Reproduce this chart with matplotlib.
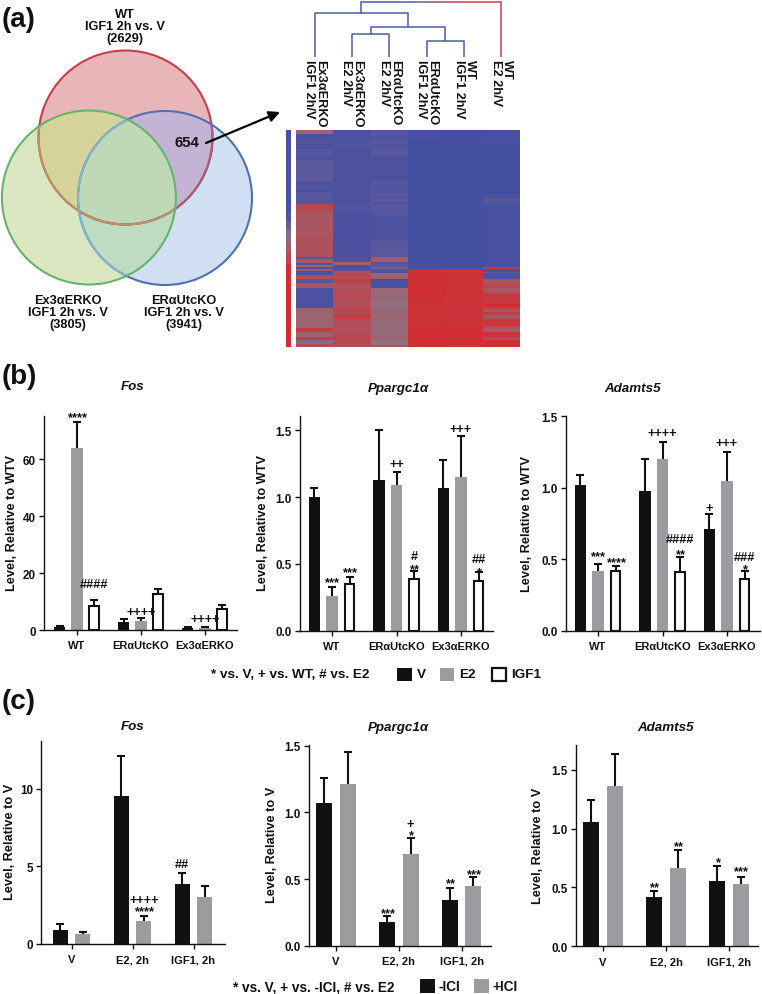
#!/usr/bin/env python3
"""Venn, clustered heatmap and qPCR bar panels (a, b, c)."""

import matplotlib
matplotlib.use("Agg")
import matplotlib.pyplot as plt
from matplotlib.colors import LinearSegmentedColormap
from matplotlib.patches import Circle, Polygon, Rectangle
import numpy as np

plt.rcParams["font.family"] = ["Liberation Sans", "DejaVu Sans"]
plt.rcParams["font.weight"] = "bold"
plt.rcParams["axes.labelweight"] = "bold"

W, H = 762, 995
BLACK = "#111113"
GRAY = "#9c9ca0"

# panel (a): venn
venn_names = ["WT\nIGF1 2h vs. V\n(2629)", "Ex3αERKO\nIGF1 2h vs. V\n(3805)", "ERαUtcKO\nIGF1 2h vs. V\n(3941)"]
venn_overlap = "654"

# panel (a): heatmap, each column is (rows, score) runs from top to bottom
heat_labels = ["Ex3αERKO\nIGF1 2h/V", "Ex3αERKO\nE2 2h/V", "ERαUtcKO\nE2 2h/V",
               "ERαUtcKO\nIGF1 2h/V", "WT\nIGF1 2h/V", "WT\nE2 2h/V"]
col_ex3_igf = [(4, .2), (4, -.8), (6, -.65), (5, -.75), (8, -.6), (3, -.75), (22, -.5), (3, -.8), (4, -.65),
               (3, -.8), (5, -.6), (7, -.6), (7, .55), (24, .35), (22, .4), (2, -.6), (4, .3), (2, -.7), (2, .2),
               (2, -.7), (2, .3), (4, -.8), (4, .5), (4, -.6), (5, .4), (20, -.75), (20, .15), (4, .7), (5, .2),
               (3, .7), (4, -.1), (3, .5)]
col_ex3_e2 = [(5, -.78), (7, -.72), (7, -.68), (55, -.75), (9, -.68), (49, -.78), (3, .2), (4, -.72), (2, -.6),
              (8, .5), (4, .65), (6, .4), (10, .5), (9, .45), (7, .55), (4, .7), (15, .45), (10, .55), (3, .4)]
col_era_e2 = [(6, -.55), (4, -.7), (5, -.6), (4, -.7), (8, -.55), (24, -.75), (7, -.55), (3, -.7), (5, -.55),
              (2, -.7), (4, -.5), (3, -.7), (6, -.55), (5, -.62), (24, -.75), (3, -.55), (14, -.5), (5, .3),
              (2, -.6), (3, -.5), (2, -.3), (4, -.65), (6, .2), (9, -.85), (12, .1), (8, .0), (12, .12), (15, .08),
              (4, .2), (6, .0), (2, .45)]
col_era_igf = [(10, -.85), (129, -.88), (30, .88), (30, .84), (18, .9)]
col_wt_igf = [(15, -.86), (124, -.88), (25, .85), (30, .82), (23, .88)]
col_wt_e2 = [(14, -.85), (50, -.88), (5, -.75), (3, -.55), (4, -.72), (61, -.85), (2, .7), (3, -.8), (2, -.55),
             (5, -.8), (6, .4), (3, .6), (5, .35), (11, .75), (3, .95), (3, .6), (2, .3), (3, .7), (4, .35),
             (8, .8), (5, .25), (5, .85), (3, .45), (7, .9)]
strip_runs = [(82, -.85), (9, -.7), (8, -.4), (15, -.1), (10, .3), (10, .6), (83, .9)]

# dendrogram merges: left node, right node, height. Nodes 0-5 are the columns, 6+ the merges
merges = [(3, 4, 47), (1, 2, 66), (7, 6, 88), (0, 8, 130), (9, 5, 164)]

# panel (b)
groups_b = ["WT", "ERαUtcKO", "Ex3αERKO"]
fos_b = [.9, 64, 8.5, 2.8, 3.2, 12.7, .6, .6, 7.5]
fos_b_top = [1.3, 73.3, 10.5, 3.7, 4.3, 14.4, .9, 1, 8.8]
ppar_b = [1.0, .26, .35, 1.13, 1.09, .39, 1.07, 1.15, .37]
ppar_b_top = [1.07, .33, .40, 1.5, 1.19, .45, 1.28, 1.46, .44]
adam_b = [1.02, .42, .42, .98, 1.2, .41, .71, 1.05, .36]
adam_b_top = [1.09, .47, .455, 1.2, 1.32, .515, .815, 1.25, .415]

# panel (c)
groups_c = ["V", "E2, 2h", "IGF1, 2h"]
fos_c = [.93, .65, 9.55, 1.45, 3.85, 3.05]
fos_c_top = [1.3, .8, 12.1, 1.8, 4.6, 3.7]
ppar_c = [1.07, 1.21, .175, .69, .345, .445]
ppar_c_top = [1.26, 1.45, .22, .81, .43, .515]
adam_c = [1.06, 1.36, .42, .665, .555, .525]
adam_c_top = [1.24, 1.635, .47, .815, .68, .59]

# significance marks: group, bar, y value, text
fos_b_marks = [(0, 1, 76, "****"), (0, 2, 16.8, "####"), (1, 1, 6.8, "++++"), (2, 1, 4.5, "++++")]
ppar_b_marks = [(0, 1, .386, "***"), (0, 2, .466, "***"), (1, 1, 1.258, "++"), (1, 2, .486, "**"), (1, 2, .573, "#"),
                (2, 1, 1.52, "+++"), (2, 2, .548, "##"), (2, 2, .461, "*")]
adam_b_marks = [(0, 1, .544, "***"), (0, 2, .50, "****"), (1, 1, 1.393, "++++"), (1, 2, .649, "####"),
                (1, 2, .56, "**"), (2, 0, .868, "+"), (2, 1, 1.323, "+++"), (2, 2, .525, "###"), (2, 2, .455, "*")]
fos_c_marks = [(2, 0, 5.21, "##"), (1, 1, 2.94, "++++"), (1, 1, 2.3, "****")]
ppar_c_marks = [(1, 0, .273, "***"), (1, 1, .926, "+"), (1, 1, .855, "*"), (2, 0, .493, "**"), (2, 1, .563, "***")]
adam_c_marks = [(1, 0, .528, "**"), (1, 1, .882, "**"), (2, 0, .743, "*"), (2, 1, .664, "***")]


fig = plt.figure(figsize=(W / 100, H / 100), dpi=100)

# full-figure overlay in pixel units for the free text and the venn
px = fig.add_axes([0, 0, 1, 1], zorder=5)
px.set_xlim(0, W)
px.set_ylim(H, 0)
px.axis("off")
px.patch.set_alpha(0)


def axes_at(left, right, bottom, top):
    return fig.add_axes([left / W, 1 - bottom / H, (right - left) / W, (bottom - top) / H])


def expand(runs):
    return np.concatenate([np.full(n, v, dtype=float) for n, v in runs])


def draw_panel(box, centers, title, title_xy, ylabel, ylabel_x, ylim_top, yticks, yfmt, groups,
               values, tops, marks, offset, width, styles):
    left, right, bottom, top = box
    ax = axes_at(left, right, bottom, top)
    c0, spacing = centers
    ax.set_xlim((left - c0) / spacing, (right - c0) / spacing)
    ax.set_ylim(0, ylim_top)

    n = len(styles)
    for i, (val, up) in enumerate(zip(values, tops)):
        g, b = divmod(i, n)
        x = g + (b - (n - 1) / 2) * offset
        face, edge, lw = styles[b]
        inset = 0.028 if lw else 0
        ax.bar(x, val, width - inset, color=face, edgecolor=edge, linewidth=lw, zorder=2)
        _, caps, _ = ax.errorbar(x, val, yerr=[[0], [up - val]], color=BLACK, elinewidth=1.5,
                                 capsize=2.8, capthick=1.5, zorder=1)
        caps[0].set_visible(False)

    for g, b, y, text in marks:
        x = g + (b - (n - 1) / 2) * offset
        star = text[0] == "*"
        ax.annotate(text, (x, y), xytext=(0, -4.6 if star else -3.2), textcoords="offset points",
                    ha="center", va="baseline", fontsize=9.4 if star else 9.2, color=BLACK,
                    annotation_clip=False, zorder=4)

    ax.set_xticks(range(len(groups)), groups)
    ax.set_yticks(yticks, [yfmt.format(t) for t in yticks])
    ax.tick_params(axis="y", length=3.4, width=1.0, labelsize=8.4, pad=2.5, colors=BLACK)
    ax.tick_params(axis="x", length=3.4, width=1.0, labelsize=8.0, pad=4, colors=BLACK)
    ax.patch.set_alpha(0)
    for side in ["top", "right"]:
        ax.spines[side].set_visible(False)
    for side in ["left", "bottom"]:
        ax.spines[side].set_linewidth(1.0)
        ax.spines[side].set_color(BLACK)

    ax.set_ylabel(ylabel, fontsize=9.2, va="center", ha="center", color=BLACK)
    ax.yaxis.set_label_coords(ylabel_x, (top + bottom) / 2 - 1, transform=px.transData)
    px.text(*title_xy, title, ha="center", va="center", fontsize=9.6, style="italic", color=BLACK)
    return ax


# panel letters
for letter, y in [("(a)", 20), ("(b)", 377), ("(c)", 702)]:
    px.text(2, y, letter, fontsize=20, ha="left", va="center", fontweight="semibold", color=BLACK)


# venn regions, clipped so each overlap gets its own flat colour
def circle(center, **kw):
    patch = Circle(center, 87, transform=px.transData, **kw)
    px.add_patch(patch)
    return patch


def lens(c1, c2):
    t = np.linspace(0, 2 * np.pi, 720)
    ring = np.column_stack([np.cos(t), np.sin(t)]) * 87
    a, b = ring + c1, ring + c2
    pts = np.vstack([a[np.hypot(*(a - c2).T) <= 87], b[np.hypot(*(b - c1).T) <= 87]])
    mid = pts.mean(axis=0)
    return pts[np.argsort(np.arctan2(*(pts - mid).T))]


RED_C, GREEN_C, BLUE_C = np.array([125.5, 138.5]), np.array([88.9, 198.5]), np.array([165.0, 199.0])
clip_green = Circle(GREEN_C, 87, transform=px.transData)
clip_blue = Circle(BLUE_C, 87, transform=px.transData)
clip_center = Polygon(lens(RED_C, GREEN_C), transform=px.transData)

circle(RED_C, fc="#e8b5b9", ec="none")
circle(GREEN_C, fc="#dbe7c0", ec="none")
circle(BLUE_C, fc="#d0e0f2", ec="none")
circle(RED_C, fc="#d7d49b", ec="none").set_clip_path(clip_green)
circle(RED_C, fc="#c5b3d6", ec="none").set_clip_path(clip_blue)
circle(GREEN_C, fc="#bedcc2", ec="none").set_clip_path(clip_blue)
circle(BLUE_C, fc="#bfd8b5", ec="none").set_clip_path(clip_center)

circle(RED_C, fc="none", ec="#c4404a", lw=1.5)
circle(RED_C, fc="none", ec="#a85a78", lw=1.5).set_clip_path(clip_blue)
circle(RED_C, fc="none", ec="#b9946a", lw=1.5).set_clip_path(clip_green)
circle(BLUE_C, fc="none", ec="#5070b4", lw=1.5)
circle(BLUE_C, fc="none", ec="#7fb8cc", lw=1.5).set_clip_path(clip_green)
circle(GREEN_C, fc="none", ec="#66b36c", lw=1.5)

for name, (x, y) in zip(venn_names, [(125, 27), (68, 313), (184, 313)]):
    px.text(x, y, name, ha="center", va="center", fontsize=9.2, linespacing=1.05, color=BLACK)
px.text(187, 143, venn_overlap, ha="center", va="center", fontsize=10.8, color=BLACK)
px.annotate("", xy=(280, 113), xytext=(206, 144),
            arrowprops=dict(arrowstyle="-|>", lw=1.6, color="black", mutation_scale=16, shrinkA=0, shrinkB=0))

# heatmap
heat_cmap = LinearSegmentedColormap.from_list(
    "heat", [(0, "#3f4da2"), (.25, "#5c589f"), (.5, "#90707f"), (1, "#d8282c")])
heat_cols = [col_ex3_igf, col_ex3_e2, col_era_e2, col_era_igf, col_wt_igf, col_wt_e2]
heat = np.column_stack([expand(c) for c in heat_cols])
ax_heat = axes_at(296, 520, 348, 131)
ax_heat.imshow(heat, aspect="auto", cmap=heat_cmap, vmin=-1, vmax=1, interpolation="nearest")
ax_heat.axis("off")
ax_strip = axes_at(286, 290.5, 348, 131)
ax_strip.imshow(expand(strip_runs)[:, None], aspect="auto", cmap=heat_cmap, vmin=-1, vmax=1)
ax_strip.axis("off")

# dendrogram
ax_den = axes_at(296, 520, 57.5, 0)
ax_den.set_xlim(0, 6)
ax_den.set_ylim(0, 172)
ax_den.axis("off")
node_x = {i: i + .5 for i in range(6)}
node_h = {i: 0 for i in range(6)}
DEN_BLUE, DEN_RED = "#5a68b0", "#c8525e"
for k, (a, b, h) in enumerate(merges):
    node = 6 + k
    node_x[node] = (node_x[a] + node_x[b]) / 2
    node_h[node] = h
    if k == len(merges) - 1:
        ax_den.plot([node_x[a], node_x[a]], [node_h[a], h], color=DEN_BLUE, lw=1.2)
        ax_den.plot([node_x[b], node_x[b]], [node_h[b], h], color=DEN_RED, lw=1.2)
        fade = np.linspace(0, 1, 30)
        xs = node_x[a] + (node_x[b] - node_x[a]) * fade
        fade_cmap = LinearSegmentedColormap.from_list("fade", [DEN_BLUE, DEN_BLUE, DEN_RED, DEN_RED])
        for i in range(len(xs) - 1):
            ax_den.plot(xs[i:i + 2], [h, h], color=fade_cmap(fade[i]), lw=1.2, solid_capstyle="butt")
    else:
        ax_den.plot([node_x[a], node_x[a], node_x[b], node_x[b]], [node_h[a], h, h, node_h[b]],
                    color=DEN_BLUE, lw=1.2)

for i, label in enumerate(heat_labels):
    px.text(296 + 37.35 * (i + .5), 60, label, rotation=270, ha="center", va="top",
            fontsize=9.2, linespacing=.9, color=BLACK, multialignment="left")

# panel (b) bars
STYLE_B = [(BLACK, BLACK, 0), (GRAY, GRAY, 0), ("white", BLACK, 1.5)]
draw_panel((44, 237, 631, 416.7), (77, 64), "Fos", (133, 387), "Level, Relative to WTV", 12, 75.4,
           [0, 20, 40, 60], "{:d}", groups_b, fos_b, fos_b_top, fos_b_marks, .27, .18, STYLE_B)
draw_panel((300, 493, 631.7, 416.7), (332, 64.5), "Ppargc1α", (398, 389), "Level, Relative to WTV", 263, 1.61,
           [0, .5, 1, 1.5], "{:.1f}", groups_b, ppar_b, ppar_b_top, ppar_b_marks, .272, .18, STYLE_B)
draw_panel((565.7, 760, 631.7, 417.3), (598, 64.5), "Adamts5", (633, 389), "Level, Relative to WTV", 527, 1.5,
           [0, .5, 1, 1.5], "{:.1f}", groups_b, adam_b, adam_b_top, adam_b_marks, .272, .18, STYLE_B)

# panel (c) bars
STYLE_C = [(BLACK, BLACK, 0), (GRAY, GRAY, 0)]
draw_panel((41, 225, 945, 741.7), (71.5, 61), "Fos", (133, 727), "Level, Relative to V", 10, 13.08,
           [0, 5, 10], "{:d}", groups_c, fos_c, fos_c_top, fos_c_marks, .37, .25, STYLE_C)
draw_panel((308.7, 490.7, 946.7, 746), (336, 62.8), "Ppargc1α", (398, 728), "Level, Relative to V", 272, 1.505,
           [0, .5, 1, 1.5], "{:.1f}", groups_c, ppar_c, ppar_c_top, ppar_c_marks, .375, .255, STYLE_C)
draw_panel((575.7, 758, 947.3, 746), (603, 63), "Adamts5", (666, 728), "Level, Relative to V", 538, 1.71,
           [0, .5, 1, 1.5], "{:.1f}", groups_c, adam_c, adam_c_top, adam_c_marks, .375, .25, STYLE_C)

# legends
px.text(211, 675, "* vs. V, + vs. WT, # vs. E2", va="center", fontsize=9.7, color=BLACK)
for x, label, face, lw in [(397, "V", BLACK, 0), (439.5, "E2", GRAY, 0), (491.5, "IGF1", "white", 1.6)]:
    px.add_patch(Rectangle((x, 668.5), 14.5, 13.5, fc=face, ec=BLACK if lw else face, lw=lw))
    px.text(x + 20, 675.5, label, va="center", fontsize=9.7, color=BLACK)

px.text(233, 987, "* vs. V, + vs. -ICI, # vs. E2", va="center", fontsize=9.8, color=BLACK)
for x, label, face in [(419.5, "-ICI", BLACK), (473.5, "+ICI", GRAY)]:
    px.add_patch(Rectangle((x, 980), 15, 14, fc=face, ec=face, lw=0))
    px.text(x + 19, 987, label, va="center", fontsize=9.8, color=BLACK)

fig.savefig("out.png", dpi=100)
